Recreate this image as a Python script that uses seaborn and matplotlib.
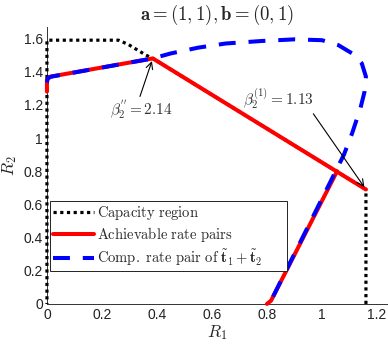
import matplotlib
matplotlib.use('Agg')
import matplotlib.pyplot as plt
import seaborn as sns

sns.set_style('white')
plt.rcParams['mathtext.fontset'] = 'cm'
plt.rcParams['font.family'] = ['Liberation Sans', 'DejaVu Sans']

# capacity region boundary
cap_r1 = [1.16, 1.16, 0.385, 0.36, 0.33, 0.295, 0.26, 0.0, 0.0]
cap_r2 = [0.0, 0.69, 1.48, 1.50, 1.53, 1.565, 1.59, 1.59, 0.0]

# achievable rate pairs (two pieces)
ach_r1 = [0.0, 0.0, 0.012, 0.385, 1.16]
ach_r2 = [1.28, 1.355, 1.37, 1.48, 0.69]
ach2_r1 = [0.80, 0.815, 1.055]
ach2_r2 = [0.0, 0.02, 0.80]

# computation rate pair of t1 + t2
comp_r1 = [0.0, 0.003, 0.015, 0.385, 0.45, 0.55, 0.65, 0.78, 0.9, 1.0, 1.06,
           1.11, 1.145, 1.16, 1.155, 1.14, 1.11, 1.08, 0.815, 0.80]
comp_r2 = [1.335, 1.36, 1.37, 1.48, 1.51, 1.545, 1.57, 1.585, 1.595, 1.59, 1.56,
           1.51, 1.45, 1.37, 1.28, 1.18, 1.03, 0.90, 0.02, 0.0]

xticks = [0, 0.2, 0.4, 0.6, 0.8, 1.0, 1.2]
xlabels = ['0', '0.2', '0.4', '0.6', '0.8', '1', '1.2']
yticks = [0, 0.2, 0.4, 0.6, 0.8, 1.0, 1.2, 1.4, 1.6]
ylabels = ['0', '0.2', '0.4', '0.6', '0.8', '1', '1.2', '1.4', '1.6']

fig = plt.figure(figsize=(3.88, 3.45), dpi=100)
ax = fig.add_axes([0.121, 0.119, 0.876, 0.803])

sns.lineplot(x=cap_r1, y=cap_r2, sort=False, estimator=None, color='black',
             lw=2.3, linestyle=(0, (1, 1.1)), label='Capacity region',
             clip_on=False, ax=ax)
sns.lineplot(x=ach_r1, y=ach_r2, sort=False, estimator=None, color='#ff0000',
             lw=2.9, label='Achievable rate pairs', clip_on=False, ax=ax)
sns.lineplot(x=ach2_r1, y=ach2_r2, sort=False, estimator=None, color='#ff0000',
             lw=2.9, label='_nolegend_', clip_on=False, ax=ax)
sns.lineplot(x=comp_r1, y=comp_r2, sort=False, estimator=None, color='#0000ff',
             lw=2.9, linestyle=(0, (4.2, 3.2)),
             label='Comp. rate pair of', clip_on=False, ax=ax)

ax.set_xlim(0, 1.236)
ax.set_ylim(0, 1.67)
ax.set_xticks(xticks)
ax.set_xticklabels(xlabels)
ax.set_yticks(yticks)
ax.set_yticklabels(ylabels)
ax.tick_params(direction='in', length=3, width=0.6, labelsize=10, pad=3,
               color='#333333', labelcolor='#222222')
sns.despine(ax=ax)
for s in ['left', 'bottom']:
    ax.spines[s].set_linewidth(0.7)
    ax.spines[s].set_color('#333333')
    ax.spines[s].set_zorder(0.5)

ax.set_xlabel('$R_1$', fontsize=12.5, labelpad=1)
ax.set_ylabel('$R_2$', fontsize=12.5, labelpad=3)
ax.set_title(r'$\mathbf{a}=(1,1),\mathbf{b}=(0,1)$', fontsize=13.5, pad=5)

# annotations
ax.annotate('', xy=(0.385, 1.48), xytext=(0.335, 1.235),
            arrowprops=dict(arrowstyle='->', color='black', lw=0.8,
                            mutation_scale=12))
ax.text(0.345, 1.17, r"$\beta_2^{''}=2.14$", ha='center', va='center',
        fontsize=11, color='#333333')
ax.annotate('', xy=(1.16, 0.69), xytext=(0.963, 1.16),
            arrowprops=dict(arrowstyle='->', color='black', lw=0.8,
                            mutation_scale=12))
ax.text(0.84, 1.235, r'$\beta_2^{(1)}=1.13$', ha='center', va='center',
        fontsize=11, color='#333333')

handles, _ = ax.get_legend_handles_labels()
labels = [r'$\mathrm{Capacity\ region}$',
          r'$\mathrm{Achievable\ rate\ pairs}$',
          r'$\mathrm{Comp.\ rate\ pair\ of\ }\tilde{\mathbf{t}}_1+\tilde{\mathbf{t}}_2$' + '      ']
leg = ax.legend(handles[:3], labels, loc='lower left', bbox_to_anchor=(0.009, 0.12),
                borderaxespad=0, fontsize=10.5, handlelength=2.8, handletextpad=0.2,
                labelspacing=0.2, borderpad=0.2, fancybox=False, framealpha=1,
                edgecolor='#222222')
leg.get_frame().set_linewidth(0.7)

fig.savefig('out.png', dpi=100)
